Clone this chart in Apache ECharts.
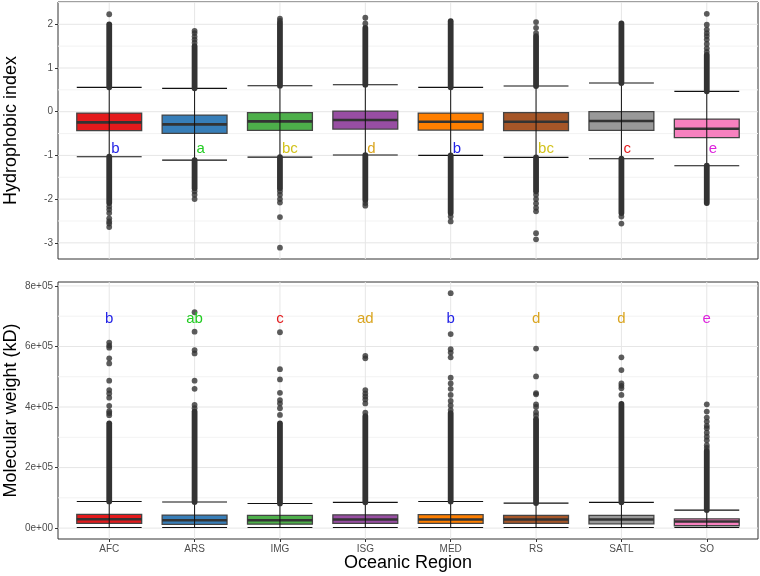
<!DOCTYPE html>
<html>
<head>
<meta charset="utf-8">
<script src="https://cdn.jsdelivr.net/npm/echarts@6/dist/echarts.min.js"></script>
<style>html,body{margin:0;padding:0;background:#fff;}#c{width:760px;height:576px;}</style>
</head>
<body>
<div id="c"></div>
<script>
// ---------- DATA ----------
const categories = ['AFC','ARS','IMG','ISG','MED','RS','SATL','SO'];

// Hydrophobic index: [lower whisker, Q1, median, Q3, upper whisker]
const hydroStats = [
  [-1.03, -0.435, -0.244, -0.031, 0.557],
  [-1.107, -0.496, -0.29, -0.076, 0.534],
  [-1.04, -0.427, -0.221, -0.023, 0.595],
  [-0.992, -0.397, -0.19, 0.015, 0.618],
  [-1.0, -0.42, -0.229, -0.031, 0.557],
  [-1.046, -0.435, -0.229, -0.023, 0.588],
  [-1.076, -0.427, -0.214, 0.0, 0.656],
  [-1.237, -0.595, -0.389, -0.168, 0.466]
];
// densely packed outlier runs: [category index, from, to]
const hydroDense = [
  [0, 0.557, 2.0], [0, -1.03, -2.09],
  [1, 0.534, 1.5], [1, -1.107, -1.75],
  [2, 0.595, 2.03], [2, -1.04, -1.75],
  [3, 0.618, 1.92], [3, -0.992, -2.02],
  [4, 0.557, 2.07], [4, -1.0, -2.32],
  [5, 0.588, 1.73], [5, -1.046, -1.82],
  [6, 0.656, 2.02], [6, -1.076, -2.32],
  [7, 0.466, 1.3], [7, -1.237, -2.09]
];
// isolated outliers: [category index, value]
const hydroSparse = [
  [0, 2.23], [0, -2.17], [0, -2.24], [0, -2.32], [0, -2.44], [0, -2.51], [0, -2.56], [0, -2.64],
  [1, 1.58], [1, 1.65], [1, 1.72], [1, 1.80], [1, 1.85], [1, -1.82], [1, -1.9], [1, -2.0],
  [2, 2.08], [2, 2.13], [2, -1.82], [2, -1.9], [2, -2.0], [2, -2.08], [2, -2.41], [2, -3.11],
  [3, 2.02], [3, 2.15], [3, -2.09], [3, -2.15],
  [4, -2.4], [4, -2.51],
  [5, 1.8], [5, 1.92], [5, 2.05], [5, -1.9], [5, -2.0], [5, -2.1], [5, -2.2], [5, -2.28], [5, -2.78], [5, -2.92],
  [6, -2.4], [6, -2.56],
  [7, 1.37], [7, 1.45], [7, 1.55], [7, 1.65], [7, 1.73], [7, 1.80], [7, 1.88], [7, 1.99], [7, 2.24]
];
const hydroLetters = ['b','a','bc','d','b','bc','c','e'];
const hydroLetterY = -0.85;

// Molecular weight (kD)
const mwStats = [
  [2000, 15500, 29000, 45500, 88000],
  [2000, 12000, 26000, 43000, 86000],
  [2000, 13000, 26000, 42000, 81500],
  [2000, 15400, 28600, 44000, 85000],
  [2000, 15400, 28600, 44500, 88000],
  [2000, 15400, 28600, 42000, 82600],
  [2000, 14000, 28600, 42000, 85000],
  [2000, 7700, 22000, 30500, 59500]
];
const mwDense = [
  [0, 88000, 346000], [1, 86000, 385000], [2, 81500, 346000], [3, 85000, 370000],
  [4, 88000, 380000], [5, 82600, 360000], [6, 85000, 410000], [7, 59500, 255000]
];
const mwSparse = [
  [0, 373000], [0, 380000], [0, 386000], [0, 404000], [0, 431000], [0, 445000], [0, 456000], [0, 487000], [0, 544000], [0, 561000], [0, 596000], [0, 603000], [0, 613000],
  [1, 396000], [1, 407000], [1, 460000], [1, 487000], [1, 577000], [1, 588000], [1, 649000], [1, 713000],
  [2, 374000], [2, 396000], [2, 412000], [2, 423000], [2, 447000], [2, 491000], [2, 525000], [2, 647000],
  [3, 381000], [3, 412000], [3, 425000], [3, 435000], [3, 445000], [3, 456000], [3, 561000], [3, 569000],
  [4, 390000], [4, 405000], [4, 420000], [4, 440000], [4, 460000], [4, 478000], [4, 497000], [4, 564000], [4, 580000], [4, 591000], [4, 641000], [4, 776000],
  [5, 372000], [5, 382000], [5, 400000], [5, 409000], [5, 442000], [5, 446000], [5, 501000], [5, 593000],
  [6, 440000], [6, 462000], [6, 470000], [6, 478000], [6, 522000], [6, 564000],
  [7, 265000], [7, 274000], [7, 290000], [7, 302000], [7, 315000], [7, 330000], [7, 338000], [7, 352000], [7, 365000], [7, 385000], [7, 409000]
];
const mwLetters = ['b','ab','c','ad','b','d','d','e'];
const mwLetterY = 690000;

// tick values
const hydroTicks = [-3, -2, -1, 0, 1, 2];
const hydroMinor = [-2.5, -1.5, -0.5, 0.5, 1.5, 2.5];
const mwTicks = [0, 200000, 400000, 600000, 800000];
const mwMinor = [100000, 300000, 500000, 700000];
const catTicks = [0, 1, 2, 3, 4, 5, 6, 7];

// ---------- STYLE ----------
const boxColors = ['#E41A1C','#377EB8','#4DAF4A','#984EA3','#FF7F00','#A65628','#999999','#F781BF'];
const letterColors = {a:'#22CC22', ab:'#22CC22', b:'#2323E6', bc:'#D2C21C', c:'#E31A1C', d:'#DAA520', ad:'#DAA520', e:'#DD22DD'};
const FONT = '"Liberation Sans", Arial, sans-serif';
const BOXW = 0.76;

function sci(v) {
  if (v === 0) return '0e+00';
  const e = Math.floor(Math.log10(Math.abs(v)));
  const m = Math.round(v / Math.pow(10, e));
  return m + 'e' + (e < 0 ? '-' : '+') + String(Math.abs(e)).padStart(2, '0');
}

// grid lines: [kind, position]; kind 0 = major horizontal, 1 = minor horizontal, 2 = vertical
function gridSeries(idx, major, minor) {
  const data = minor.map(v => [1, v]).concat(major.map(v => [0, v])).concat(catTicks.map(c => [2, c]));
  return {
    type: 'custom', xAxisIndex: idx, yAxisIndex: idx, z: 0, silent: true,
    encode: {x: -1, y: -1},
    data: data,
    renderItem: function (params, api) {
      const r = params.coordSys;
      const kind = api.value(0), v = api.value(1);
      if (kind === 2) {
        const x = api.coord([v, major[0]])[0];
        return {type:'line', shape:{x1:x, y1:r.y, x2:x, y2:r.y + r.height}, style:{stroke:'#E6E6E6', lineWidth:1}};
      }
      const y = api.coord([0, v])[1];
      return {type:'line', shape:{x1:r.x, y1:y, x2:r.x + r.width, y2:y},
        style:{stroke: kind === 0 ? '#E6E6E6' : '#F3F3F3', lineWidth:1}};
    }
  };
}

function boxSeries(idx, stats) {
  return {
    type: 'custom', xAxisIndex: idx, yAxisIndex: idx, z: 2, silent: true,
    data: stats.map((s, i) => [i].concat(s)),
    renderItem: function (params, api) {
      const i = api.value(0);
      const bw = api.size([BOXW, 0])[0];
      const pl = api.coord([i, api.value(1)]);
      const y1 = api.coord([i, api.value(2)])[1];
      const ym = api.coord([i, api.value(3)])[1];
      const y3 = api.coord([i, api.value(4)])[1];
      const ph = api.coord([i, api.value(5)]);
      const x = pl[0];
      return {type:'group', children:[
        {type:'line', shape:{x1:x-bw/2, y1:pl[1], x2:x+bw/2, y2:pl[1]}, style:{stroke:'#111', lineWidth:1.1}},
        {type:'line', shape:{x1:x-bw/2, y1:ph[1], x2:x+bw/2, y2:ph[1]}, style:{stroke:'#111', lineWidth:1.1}},
        {type:'rect', shape:{x:x-bw/2, y:y3, width:bw, height:y1-y3}, style:{fill:boxColors[i], stroke:'#444', lineWidth:1.3}},
        {type:'line', shape:{x1:x-bw/2, y1:ym, x2:x+bw/2, y2:ym}, style:{stroke:'#333', lineWidth:2.6}},
        {type:'line', shape:{x1:x, y1:pl[1], x2:x, y2:ph[1]}, style:{stroke:'#111', lineWidth:1}}
      ]};
    }
  };
}

function denseSeries(idx, runs) {
  return {
    type: 'custom', xAxisIndex: idx, yAxisIndex: idx, z: 3, silent: true,
    data: runs,
    renderItem: function (params, api) {
      const a = api.coord([api.value(0), api.value(1)]);
      const b = api.coord([api.value(0), api.value(2)]);
      return {type:'line', shape:{x1:a[0], y1:a[1], x2:b[0], y2:b[1]}, style:{stroke:'#333333', lineWidth:5.8, lineCap:'round'}};
    }
  };
}

function sparseSeries(idx, pts) {
  return {
    type: 'scatter', xAxisIndex: idx, yAxisIndex: idx, z: 3, silent: true,
    symbol: 'circle', symbolSize: 5.8,
    itemStyle: {color: '#333333'},
    data: pts
  };
}

function letterSeries(idx, letters, yv, align, dx) {
  return {
    type: 'custom', xAxisIndex: idx, yAxisIndex: idx, z: 4, silent: true,
    data: letters.map((l, i) => [i, yv]),
    renderItem: function (params, api) {
      const p = api.coord([api.value(0), api.value(1)]);
      const t = letters[params.dataIndex];
      return {type:'text', x: p[0] + dx, y: p[1], style:{text: t, fill: letterColors[t], font: '15px ' + FONT, align: align, verticalAlign:'middle'}};
    }
  };
}

function xAxisCfg(idx, showLabels) {
  return {
    type: 'value', gridIndex: idx, min: -0.6, max: 7.6,
    axisLine: {show: false, onZero: false},
    splitLine: {show: false},
    axisTick: {show: showLabels, length: 3, lineStyle: {color: '#333'}, customValues: catTicks},
    axisLabel: {show: showLabels, customValues: catTicks, margin: 5, color: '#4D4D4D', fontSize: 10, fontFamily: FONT,
      formatter: v => categories[Math.round(v)]}
  };
}

function yAxisCfg(idx, min, max, ticks, fmt) {
  return {
    type: 'value', gridIndex: idx, min: min, max: max,
    axisLine: {show: false, onZero: false},
    splitLine: {show: false},
    axisTick: {show: true, length: 3, lineStyle: {color: '#333'}, customValues: ticks},
    axisLabel: {show: true, customValues: ticks, margin: 5, color: '#4D4D4D', fontSize: 10, fontFamily: FONT, formatter: fmt}
  };
}

const chart = echarts.init(document.getElementById('c'), null, {renderer: 'canvas'});
chart.setOption({
  animation: false,
  backgroundColor: '#ffffff',
  grid: [
    {left: 58, top: 2, width: 700, height: 257, show: true, borderColor: '#333', borderWidth: 1, backgroundColor: '#fff', containLabel: false},
    {left: 58, top: 282, width: 700, height: 257, show: true, borderColor: '#333', borderWidth: 1, backgroundColor: '#fff', containLabel: false}
  ],
  xAxis: [xAxisCfg(0, false), xAxisCfg(1, true)],
  yAxis: [
    yAxisCfg(0, -3.37, 2.51, hydroTicks, v => String(Math.round(v))),
    yAxisCfg(1, -36000, 813000, mwTicks, v => sci(v))
  ],
  graphic: [
    {type:'text', x: 11, y: 130.5, rotation: Math.PI/2, style:{text:'Hydrophobic index', font:'18px ' + FONT, fill:'#000', align:'center', verticalAlign:'middle'}},
    {type:'text', x: 11, y: 410.5, rotation: Math.PI/2, style:{text:'Molecular weight (kD)', font:'18px ' + FONT, fill:'#000', align:'center', verticalAlign:'middle'}},
    {type:'text', x: 408, y: 563, style:{text:'Oceanic Region', font:'18px ' + FONT, fill:'#000', align:'center', verticalAlign:'middle'}}
  ],
  series: [
    gridSeries(0, hydroTicks, hydroMinor),
    boxSeries(0, hydroStats),
    denseSeries(0, hydroDense),
    sparseSeries(0, hydroSparse),
    letterSeries(0, hydroLetters, hydroLetterY, 'left', 2),
    gridSeries(1, mwTicks, mwMinor),
    boxSeries(1, mwStats),
    denseSeries(1, mwDense),
    sparseSeries(1, mwSparse),
    letterSeries(1, mwLetters, mwLetterY, 'center', 0)
  ]
});
</script>
</body>
</html>
